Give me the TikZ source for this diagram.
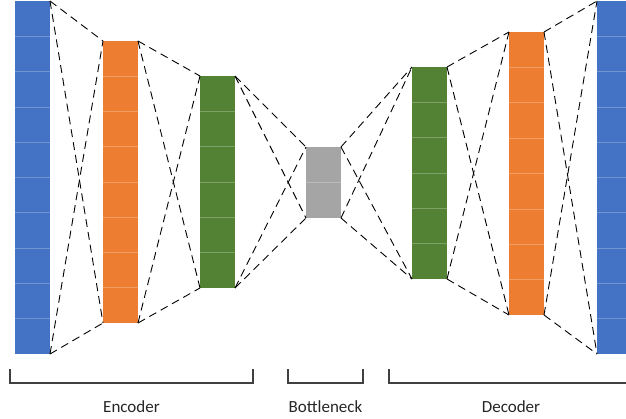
\documentclass[tikz,border=0pt]{standalone}
\usepackage{fontspec}
\setmainfont{Carlito}
\usetikzlibrary{calc}
\definecolor{cblue}{HTML}{4472C4}
\definecolor{corange}{HTML}{ED7D31}
\definecolor{cgreen}{HTML}{548235}
\definecolor{cgray}{HTML}{A5A5A5}
\begin{document}
\begin{tikzpicture}[x=1pt,y=-1pt,
  col/.style={rectangle, inner sep=0pt, outer sep=0pt, minimum width=35pt, draw=none},
  cellline/.style={draw=white, opacity=0.25, line width=0.7pt},
  link/.style={draw=black, dash pattern=on 8pt off 5pt, line width=0.9pt},
  brk/.style={draw=black!75, line width=1.3pt},
  lbl/.style={font=\fontsize{17}{20}\selectfont, text=black!85, anchor=base}]
\useasboundingbox (0,0) rectangle (626,418);
\foreach \nm/\xl/\yt/\yb/\n/\c in {b1/15/1/354/10/cblue, o1/103/41/323/8/corange, g1/200/76/288/6/cgreen, gr/306/147/218/2/cgray, g2/412/67/279/6/cgreen, o2/509/32/315/8/corange, b2/597/1/354/10/cblue}{
  \node[col, fill=\c, minimum height={(\yb-\yt)*1pt}] (\nm) at ({\xl+17.5},{(\yt+\yb)/2}) {};
  \pgfmathtruncatemacro\m{\n-1}
  \foreach \k in {1,...,\m}{
    \draw[cellline] ($(\nm.north west)!\k/\n!(\nm.south west)$) -- ($(\nm.north east)!\k/\n!(\nm.south east)$);
  }
}
\foreach \a/\b in {b1/o1, o1/g1, g1/gr, gr/g2, g2/o2, o2/b2}{
  \draw[link] (\a.north east) -- (\b.north west);
  \draw[link] (\a.north east) -- (\b.south west);
  \draw[link] (\a.south east) -- (\b.north west);
  \draw[link] (\a.south east) -- (\b.south west);
}
\coordinate (e1) at (10,369); \coordinate (e2) at (253,369);
\coordinate (m1) at (288,369); \coordinate (m2) at (363,369);
\coordinate (d1) at (389,369); \coordinate (d2) at (633,369);
\draw[brk] (e1) -- ++(0,14) -| (e2);
\draw[brk] (m1) -- ++(0,14) -| (m2);
\draw[brk] (d1) -- ++(0,14) -| (d2);
\node[lbl] (enc) at (131.5,412) {Encoder};
\node[lbl] (bot) at (325.5,412) {Bottleneck};
\node[lbl] (dec) at (511,412) {Decoder};
\end{tikzpicture}
\end{document}
